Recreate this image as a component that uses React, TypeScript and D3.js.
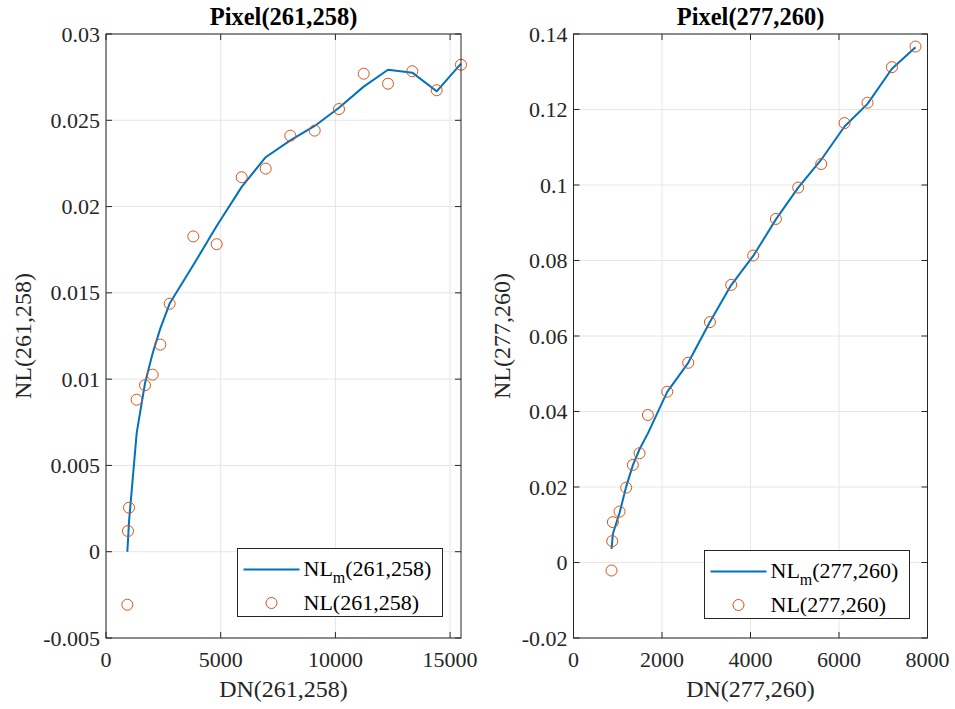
import React from "react";
import * as d3 from "d3";

// Pixel (261,258): measured digital numbers and non-linearity, plus the model curve
const leftDN = [930, 959, 1003, 1337, 1700, 2034, 2369, 2775, 3806, 4825, 5915, 6961, 8034, 9097, 10157, 11233, 12293, 13353, 14415, 15475];
const leftNL = [-0.00307, 0.0012, 0.00255, 0.00881, 0.00965, 0.01026, 0.012, 0.01437, 0.01827, 0.01782, 0.0217, 0.0222, 0.02411, 0.0244, 0.02565, 0.0277, 0.02712, 0.02784, 0.02674, 0.02822];
const leftModel = [0.0, 0.00065, 0.00174, 0.00687, 0.00976, 0.0115, 0.01294, 0.01438, 0.01661, 0.01887, 0.02114, 0.02286, 0.02384, 0.02467, 0.02573, 0.02695, 0.02793, 0.02776, 0.02668, 0.02828];
const leftXTicks = [0, 5000, 10000, 15000];
const leftYTicks = [-0.005, 0, 0.005, 0.01, 0.015, 0.02, 0.025, 0.03];

// Pixel (277,260)
const rightDN = [859, 875, 890, 1040, 1191, 1342, 1492, 1681, 2118, 2592, 3082, 3564, 4061, 4574, 5078, 5598, 6124, 6644, 7196, 7729];
const rightNL = [-0.00212, 0.00566, 0.01069, 0.01349, 0.01984, 0.02585, 0.02894, 0.03907, 0.04524, 0.05291, 0.06368, 0.07354, 0.08132, 0.09101, 0.09931, 0.10556, 0.1164, 0.1218, 0.13122, 0.13668];
const rightModel = [0.0036, 0.0055, 0.0076, 0.0131, 0.0201, 0.0258, 0.03, 0.0342, 0.0452, 0.0529, 0.0637, 0.0735, 0.0812, 0.0909, 0.0993, 0.1067, 0.1155, 0.1215, 0.1308, 0.1365];
const rightXTicks = [0, 2000, 4000, 6000, 8000];
const rightYTicks = [-0.02, 0, 0.02, 0.04, 0.06, 0.08, 0.1, 0.12, 0.14];

const FONT = "'Liberation Serif', 'Times New Roman', serif";
const INK = "#262626";
const BLUE = "#0072BD";
const ORANGE = "#D95319";
const GRID = "#e6e6e6";

type PanelProps = {
  id: string;
  dn: number[];
  nl: number[];
  model: number[];
  xDomain: [number, number];
  yDomain: [number, number];
  xTicks: number[];
  yTicks: number[];
  left: number;
  right: number;
  top: number;
  bottom: number;
  labelX: number;
  legendX: number;
  legendY: number;
};

function fmt(v: number) {
  return String(+v.toPrecision(6));
}

function Panel(p: PanelProps) {
  const x = d3.scaleLinear().domain(p.xDomain).range([p.left, p.right]);
  const y = d3.scaleLinear().domain(p.yDomain).range([p.bottom, p.top]);
  const line = d3
    .line<number>()
    .x((_, i) => x(p.dn[i]))
    .y((d) => y(d));
  const tickLen = 6;
  const legW = 205;
  const legH = 68;
  const midX = (p.left + p.right) / 2;
  const midY = (p.top + p.bottom) / 2;
  return (
    <g fontFamily={FONT}>
      {/* grid */}
      {p.xTicks.map((t) => (
        <line key={"gx" + t} x1={x(t)} x2={x(t)} y1={p.top} y2={p.bottom} stroke={GRID} strokeWidth={1} />
      ))}
      {p.yTicks.map((t) => (
        <line key={"gy" + t} x1={p.left} x2={p.right} y1={y(t)} y2={y(t)} stroke={GRID} strokeWidth={1} />
      ))}
      {/* model curve */}
      <path d={line(p.model) || ""} fill="none" stroke={BLUE} strokeWidth={2} strokeLinejoin="round" />
      {/* measurements */}
      {p.dn.map((d, i) => (
        <circle key={"pt" + i} cx={x(d)} cy={y(p.nl[i])} r={5.5} fill="none" stroke={ORANGE} strokeWidth={1} />
      ))}
      {/* box */}
      <rect x={p.left} y={p.top} width={p.right - p.left} height={p.bottom - p.top} fill="none" stroke={INK} strokeWidth={1} />
      {/* ticks on all four sides */}
      {p.xTicks.map((t) => (
        <g key={"tx" + t}>
          <line x1={x(t)} x2={x(t)} y1={p.bottom} y2={p.bottom - tickLen} stroke={INK} />
          <line x1={x(t)} x2={x(t)} y1={p.top} y2={p.top + tickLen} stroke={INK} />
          <text x={x(t)} y={p.bottom + 29} textAnchor="middle" fontSize={22} fill={INK}>
            {fmt(t)}
          </text>
        </g>
      ))}
      {p.yTicks.map((t) => (
        <g key={"ty" + t}>
          <line x1={p.left} x2={p.left + tickLen} y1={y(t)} y2={y(t)} stroke={INK} />
          <line x1={p.right} x2={p.right - tickLen} y1={y(t)} y2={y(t)} stroke={INK} />
          <text x={p.left - 6} y={y(t) + 7.5} textAnchor="end" fontSize={22} fill={INK}>
            {fmt(t)}
          </text>
        </g>
      ))}
      {/* labels */}
      <text x={midX} y={25} textAnchor="middle" fontSize={24.5} fontWeight="bold" fill="#000">
        {`Pixel(${p.id})`}
      </text>
      <text x={midX} y={p.bottom + 59} textAnchor="middle" fontSize={24} fill={INK}>
        {`DN(${p.id})`}
      </text>
      <text
        transform={`translate(${p.labelX},${midY}) rotate(-90)`}
        textAnchor="middle"
        fontSize={24}
        fill={INK}
      >
        {`NL(${p.id})`}
      </text>
      {/* legend */}
      <g transform={`translate(${p.legendX},${p.legendY})`}>
        <rect x={0} y={0} width={legW} height={legH} fill="#fff" stroke={INK} strokeWidth={1} />
        <line x1={6} x2={62} y1={21} y2={21} stroke={BLUE} strokeWidth={2} />
        <text x={66} y={27} fontSize={22} fill="#000">
          NL
          <tspan fontSize={16} dy={7}>m</tspan>
          <tspan dy={-7}>{`(${p.id})`}</tspan>
        </text>
        <circle cx={34} cy={54.5} r={5.5} fill="none" stroke={ORANGE} strokeWidth={1} />
        <text x={66} y={61} fontSize={22} fill="#000">
          {`NL(${p.id})`}
        </text>
      </g>
    </g>
  );
}

export default function App() {
  return (
    <svg width={955} height={709} style={{ position: "absolute", left: 0, top: 0, background: "#fff" }}>
      <rect x={0} y={0} width={955} height={709} fill="#fff" />
      <Panel
        id="261,258"
        dn={leftDN}
        nl={leftNL}
        model={leftModel}
        xDomain={[0, 15475]}
        yDomain={[-0.005, 0.03]}
        xTicks={leftXTicks}
        yTicks={leftYTicks}
        left={106}
        right={461}
        top={34}
        bottom={638}
        labelX={31}
        legendX={237.5}
        legendY={548.5}
      />
      <Panel
        id="277,260"
        dn={rightDN}
        nl={rightNL}
        model={rightModel}
        xDomain={[0, 8000]}
        yDomain={[-0.02, 0.14]}
        xTicks={rightXTicks}
        yTicks={rightYTicks}
        left={573.5}
        right={927.5}
        top={34}
        bottom={638}
        labelX={510}
        legendX={704.5}
        legendY={550.5}
      />
    </svg>
  );
}
